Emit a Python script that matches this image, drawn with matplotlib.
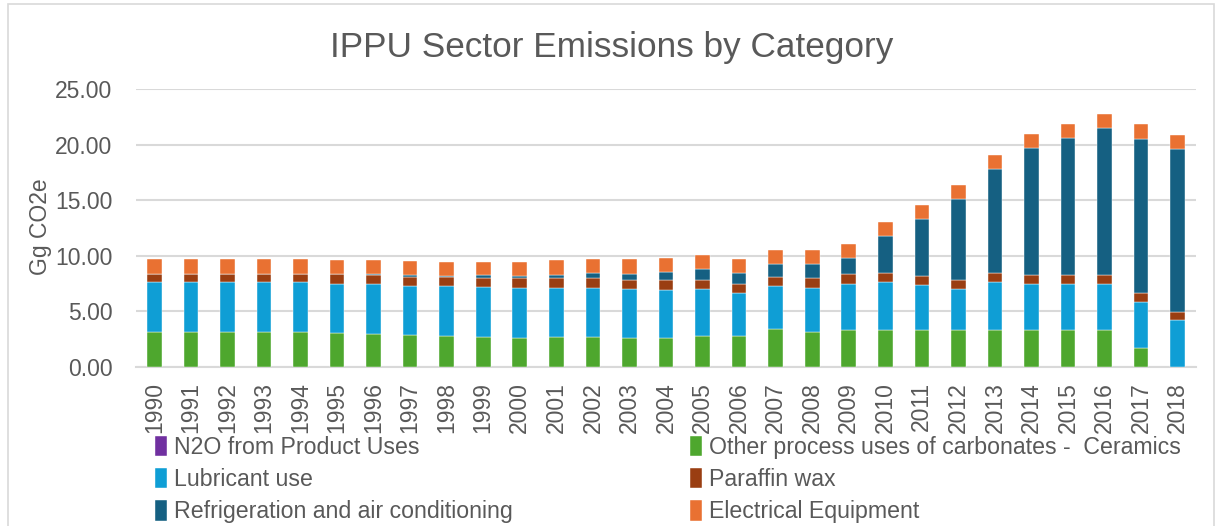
import matplotlib
matplotlib.use("Agg")
import matplotlib.pyplot as plt
from matplotlib.patches import Rectangle
import numpy as np

plt.rcParams['font.family'] = ['Liberation Sans', 'DejaVu Sans']

years = [str(y) for y in range(1990, 2019)]

# Gg CO2e
n2o = [0.01] * 29
ceramics = [3.11, 3.11, 3.11, 3.11, 3.11, 3.02, 2.93, 2.90, 2.81, 2.72,
            2.63, 2.66, 2.69, 2.57, 2.56, 2.74, 2.77, 3.40, 3.13, 3.31,
            3.31, 3.31, 3.31, 3.31, 3.31, 3.31, 3.31, 1.68, 0.00]
lubricant = [4.49, 4.49, 4.49, 4.49, 4.49, 4.47, 4.50, 4.41, 4.44, 4.47,
             4.47, 4.44, 4.44, 4.41, 4.36, 4.30, 3.85, 3.88, 4.00, 4.18,
             4.36, 4.03, 3.73, 4.36, 4.12, 4.15, 4.15, 4.16, 4.18]
paraffin = [0.78, 0.78, 0.78, 0.78, 0.78, 0.83, 0.83, 0.80, 0.80, 0.83,
            0.86, 0.86, 0.83, 0.83, 0.90, 0.81, 0.84, 0.81, 0.87, 0.87,
            0.81, 0.84, 0.78, 0.81, 0.81, 0.81, 0.81, 0.81, 0.78]
refrigeration = [0.00, 0.00, 0.00, 0.00, 0.00, 0.03, 0.05, 0.15, 0.15, 0.21,
                 0.24, 0.33, 0.51, 0.57, 0.75, 0.93, 0.96, 1.15, 1.24, 1.42,
                 3.28, 5.15, 7.25, 9.30, 11.40, 12.34, 13.18, 13.87, 14.62]
electrical = [1.29, 1.29, 1.29, 1.29, 1.29, 1.29, 1.26, 1.23, 1.26, 1.23,
              1.26, 1.29, 1.26, 1.29, 1.24, 1.24, 1.24, 1.29, 1.26, 1.29,
              1.24, 1.26, 1.27, 1.26, 1.30, 1.26, 1.26, 1.29, 1.27]

series = [
    ("N2O from Product Uses", n2o, "#7030A0"),
    ("Other process uses of carbonates -  Ceramics", ceramics, "#4EA72E"),
    ("Lubricant use", lubricant, "#0F9ED5"),
    ("Paraffin wax", paraffin, "#9A3E12"),
    ("Refrigeration and air conditioning", refrigeration, "#156082"),
    ("Electrical Equipment", electrical, "#E97132"),
]

text_color = "#595959"
grid_color = "#D9D9D9"

fig = plt.figure(figsize=(12.18, 5.26), dpi=100)
ax = fig.add_axes([136 / 1218, 159 / 526, 1060 / 1218, 278 / 526])

x = np.arange(len(years))
bottom = np.zeros(len(years))
handles = []
for name, vals, color in series:
    vals = np.array(vals)
    b = ax.bar(x, vals, width=0.4, bottom=bottom, color=color, label=name,
               edgecolor="white", linewidth=0.3, zorder=3)
    handles.append(b)
    bottom += vals

ax.set_xlim(-0.5, len(years) - 0.5)
ax.set_ylim(0, 25)
ax.set_yticks(np.arange(0, 26, 5))
ax.set_yticklabels([f"{v:.2f}" for v in np.arange(0, 26, 5)])
ax.set_xticks(x)
ax.set_xticklabels(years, rotation=90)
ax.tick_params(axis="both", length=0, colors=text_color, labelsize=16.5)
ax.tick_params(axis="y", pad=17)
ax.tick_params(axis="x", pad=11)
ax.grid(axis="y", color=grid_color, linewidth=1.5, zorder=0)
for s in ["top", "right", "left"]:
    ax.spines[s].set_visible(False)
ax.spines["bottom"].set_color(grid_color)
ax.spines["bottom"].set_linewidth(1.5)

fig.text(41 / 1218, 1 - 227 / 526, "Gg CO2e", rotation=90, ha="center",
         va="center", fontsize=16.5, color=text_color)
fig.text(612 / 1218, 1 - 48 / 526, "IPPU Sector Emissions by Category",
         ha="center", va="center", fontsize=25.3, color=text_color)

# two legend columns, row order like the source
left = [handles[0], handles[2], handles[4]]
right = [handles[1], handles[3], handles[5]]
for hs, xpos in [(left, 143 / 1218), (right, 678 / 1218)]:
    leg = fig.legend(hs, [h.get_label() for h in hs], loc="upper left",
                     bbox_to_anchor=(xpos, 1 - 424 / 526), frameon=False,
                     fontsize=16.7, handlelength=0.55, handleheight=1.0,
                     handletextpad=0.3, labelspacing=0.38, borderpad=0,
                     labelcolor=text_color)

fig.add_artist(Rectangle((8 / 1218, -0.01), 1206 / 1218, 1 - 4 / 526 + 0.01,
                         transform=fig.transFigure, fill=False,
                         edgecolor=grid_color, linewidth=1.2))

plt.savefig("out.png", dpi=100)
plt.close()
